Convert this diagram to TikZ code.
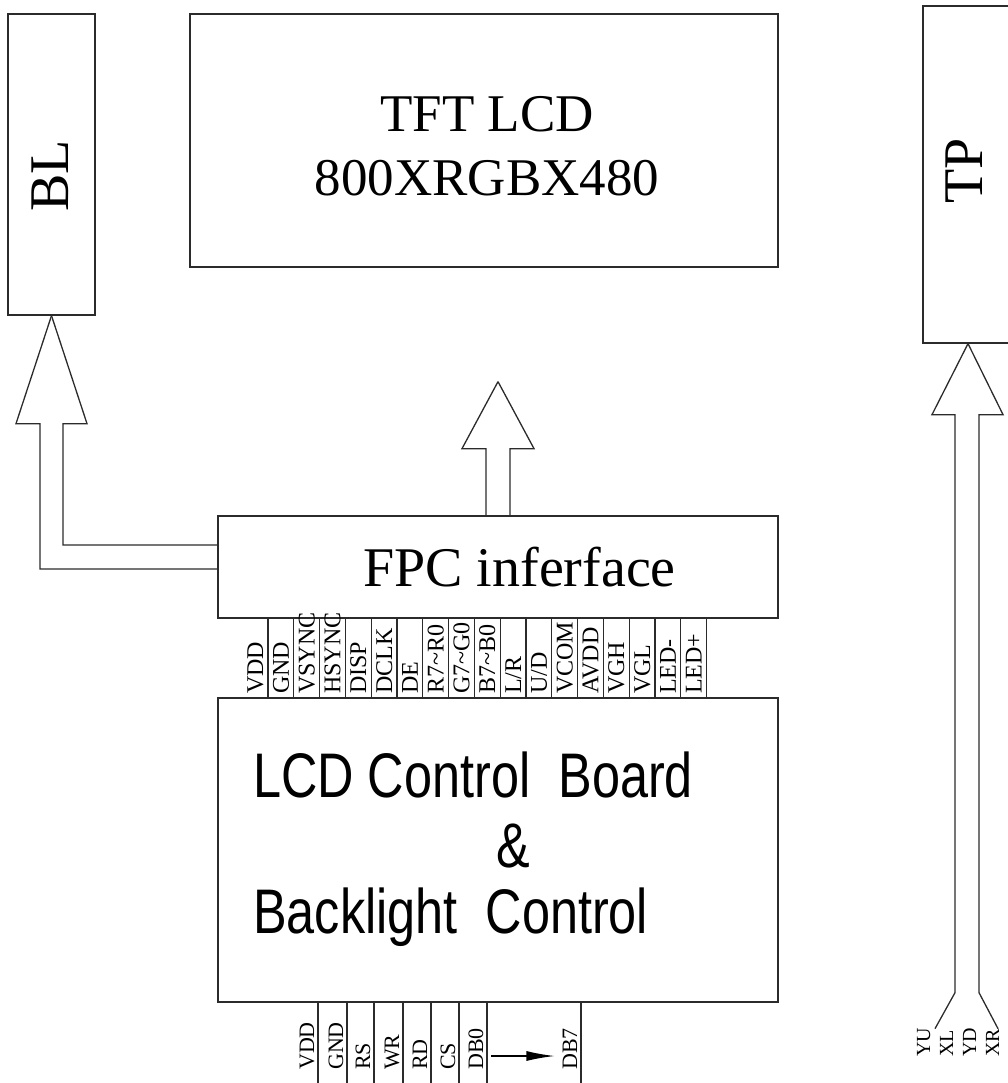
\documentclass[tikz,border=0pt]{standalone}
\usepackage{fontspec}
\setmainfont{Liberation Serif}
\newfontfamily\boardfont[FakeStretch=0.8]{Liberation Sans}
\usepackage{xcolor}
\definecolor{lineGray}{HTML}{2B2B2B}
\usetikzlibrary{arrows.meta,positioning,calc}
\tikzset{
  panel/.style={
    draw=lineGray,
    line width=1.3pt,
    inner sep=0pt
  },
  bigtext/.style={
    font=\fontsize{56}{64}\selectfont,
    inner sep=0pt,
    align=center
  },
  boardtext/.style={
    font=\boardfont\fontsize{63}{68}\selectfont,
    inner sep=0pt
  },
  pintext/.style={
    font=\fontsize{24}{24}\selectfont,
    rotate=90,
    anchor=base west,
    inner sep=0pt
  },
  pinlow/.style={pintext, font=\fontsize{22}{22}\selectfont},
  wiretext/.style={pintext, font=\fontsize{20}{20}\selectfont},
  hollowline/.style={
    draw=lineGray,
    line width=1.3pt
  },
  busarrow/.style={
    draw=black,
    line width=1.3pt,
    -{Latex[length=28pt,width=10pt]}
  }
}

\begin{document}
\begin{tikzpicture}[x=1pt,y=-1pt]
  \useasboundingbox (0,0) rectangle (1008,1083);
  \clip (0,0) rectangle (1008,1083);
  % blocks
  \node[panel, minimum width=87, minimum height=301] (BL) at (51.5,164.5) {};
  \node[panel, minimum width=588, minimum height=253] (TFT) at (484,140.5) {};
  \node[panel, minimum width=90, minimum height=337] (TP) at (968,174.5) {};
  \node[panel, minimum width=560, minimum height=102] (FPC) at (498,567) {};
  \node[panel, minimum width=560, minimum height=304] (board) at (498,850) {};
  % block texts
  \node[bigtext, rotate=90] (bltext) at (50,176) {BL};
  \node[bigtext, font=\fontsize{53}{64}\selectfont] (tftname) at (487,146) {TFT LCD\\800XRGBX480};
  \node[bigtext, rotate=90] (tptext) at (964,171) {TP};
  \node[bigtext, anchor=base] (fpcname) at (519.5,586) {FPC inferface};
  \node[boardtext, anchor=base west] (boardline) at (253,797) {LCD Control~~Board};
  \node[boardtext, anchor=base] (boardamp) at (513,867) {\&};
  \node[boardtext, anchor=base west] (boardlight) at (253,933) {Backlight~~Control};
  % hollow arrows
  \draw[hollowline] (BL.south) -- ++(-35.5,108) -- ++(24,0) |- ($(FPC.west)+(0,2)$);
  \draw[hollowline] (BL.south) -- ++(35.5,108) -- ++(-24,0) |- ($(FPC.west)+(0,-22)$);
  \coordinate (tftin) at ($(TFT.south)+(14,114)$);
  \draw[hollowline] (tftin) -- ++(-36,67) -- ++(24,0) -- ++(0,68);
  \draw[hollowline] (tftin) -- ++(36,67) -- ++(-24,0) -- ++(0,68);
  \draw[hollowline] (TP.south) -- ++(-36,71) -- ++(23,0) -- ++(0,578) -- ++(-20,36);
  \draw[hollowline] (TP.south) -- ++(35,71) -- ++(-24,0) -- ++(0,578) -- ++(19,36);
  % FPC pins
  \foreach \pin [count=\i from 0] in {VDD,GND,VSYNC,HSYNC,DISP,DCLK,DE,R7\textasciitilde R0,G7\textasciitilde G0,B7\textasciitilde B0,L/R,U/D,VCOM,AVDD,VGH,VGL,LED-,LED+}{
    \pgfmathsetmacro{\xr}{268+25.8*\i}
    \draw[hollowline] (\xr,0 |- FPC.south) -- (\xr,0 |- board.north);
    \node[pintext] (pin\i) at (\xr-5,694) {\pin};
  }
  % MCU pins
  \foreach \pin/\xr in {VDD/318,GND/347,RS/374,WR/403,RD/431,CS/459,DB0/487,DB7/581}{
    \draw[hollowline] (\xr,0 |- board.south) -- (\xr,1090);
    \node[pinlow] (low\pin) at (\xr-4,1070) {\pin};
  }
  \draw[busarrow] ($(lowDB0.south |- 0,1056)+(8,0)$) -- ($(lowDB7.north |- 0,1056)+(-8,0)$);
  % touch panel wires
  \foreach \wire/\xb in {YU/930,XL/953,YD/976,XR/999}{
    \node[wiretext] (wire\wire) at (\xb,1057) {\wire};
  }
\end{tikzpicture}
\end{document}
